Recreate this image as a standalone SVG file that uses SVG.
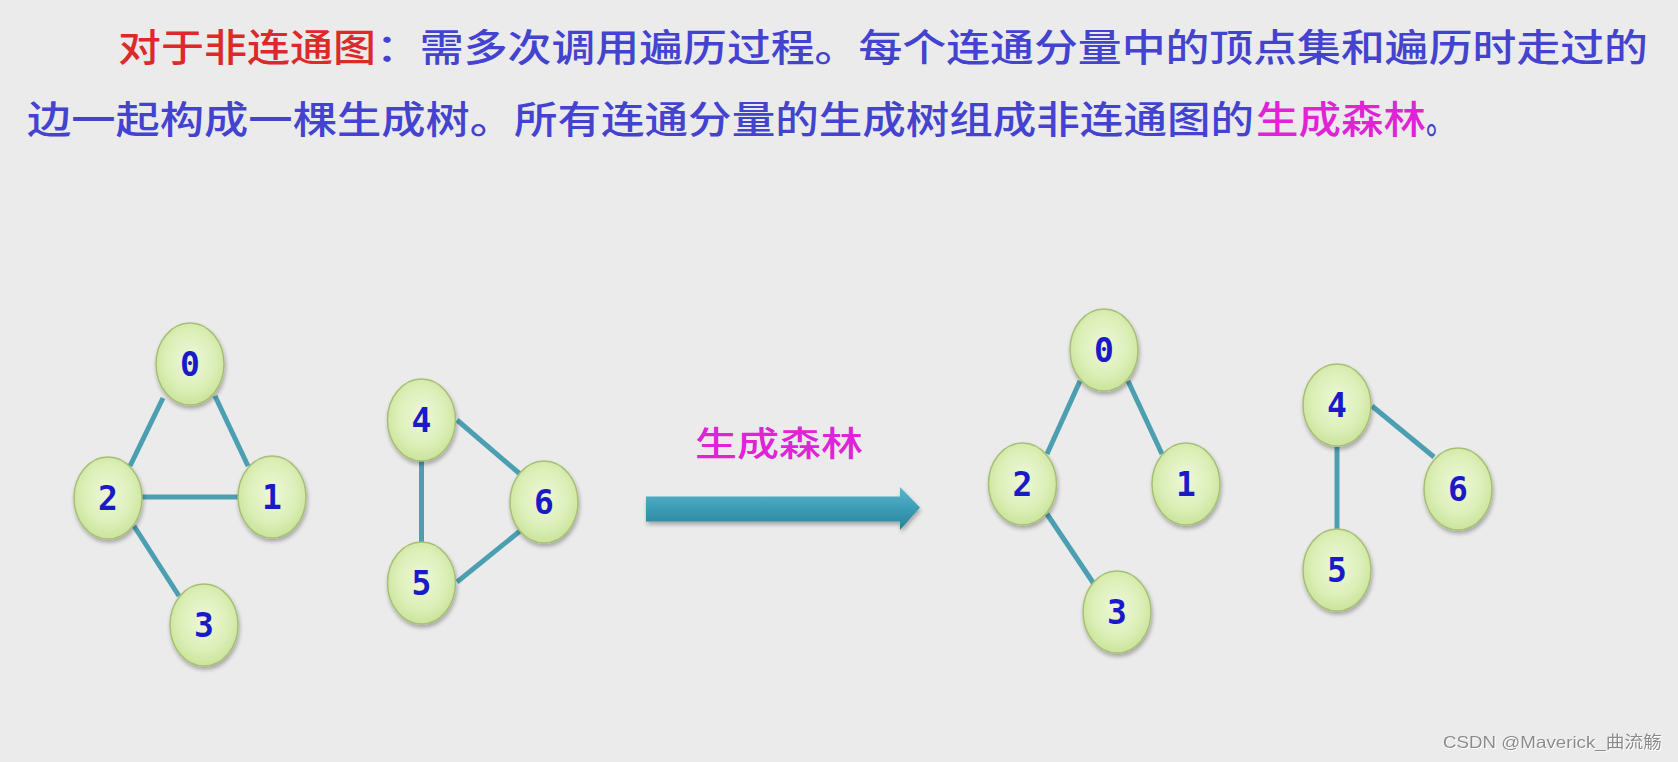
<svg xmlns="http://www.w3.org/2000/svg" width="1678" height="762" viewBox="0 0 1678 762">
<defs>
<radialGradient id="ng" cx="50%" cy="45%" r="60%">
<stop offset="0" stop-color="#eef8d8"/>
<stop offset="0.6" stop-color="#dcefb8"/>
<stop offset="1" stop-color="#c6e193"/>
</radialGradient>
<linearGradient id="ag" x1="0" y1="0" x2="0" y2="1">
<stop offset="0" stop-color="#5bb5cb"/>
<stop offset="0.5" stop-color="#3c9db6"/>
<stop offset="1" stop-color="#2a7f98"/>
</linearGradient>
<filter id="sh" x="-30%" y="-30%" width="160%" height="160%">
<feGaussianBlur in="SourceAlpha" stdDeviation="2"/>
<feOffset dx="1" dy="3"/>
<feComponentTransfer><feFuncA type="linear" slope="0.3"/></feComponentTransfer>
<feMerge><feMergeNode/><feMergeNode in="SourceGraphic"/></feMerge>
</filter>
<filter id="ws" x="-5%" y="-30%" width="110%" height="160%">
<feOffset in="SourceAlpha" dx="1" dy="1" result="o"/>
<feFlood flood-color="#ffffff"/>
<feComposite in2="o" operator="in"/>
<feMerge><feMergeNode/><feMergeNode in="SourceGraphic"/></feMerge>
</filter>
</defs>
<style>
.t{font-family:"Noto Sans CJK SC","Noto Sans CJK TC",sans-serif;font-size:38px;font-weight:500;}
.red{fill:#dc2a2a;}
.blue{fill:#4343cf;}
.mag{fill:#e023d6;}
.node ellipse{fill:url(#ng);stroke:#a7bf75;stroke-width:1.5;filter:url(#sh);}
.node text{font-family:"DejaVu Sans Mono",monospace;font-weight:bold;font-size:33px;fill:#1a1ac8;text-anchor:middle;}
.edges line{stroke:#4c9fb1;stroke-width:5;stroke-linecap:butt;}
</style>
<rect width="1678" height="762" fill="#ebebeb"/>

<g id="title">
<text class="t red" x="118" y="61" textLength="258" lengthAdjust="spacingAndGlyphs">对于非连通图</text>
<text class="t blue" x="376" y="61" textLength="1272" lengthAdjust="spacingAndGlyphs">：需多次调用遍历过程。每个连通分量中的顶点集和遍历时走过的</text>
<text class="t blue" x="27" y="133" textLength="487" lengthAdjust="spacingAndGlyphs">边一起构成一棵生成树。</text>
<text class="t blue" x="514" y="133" textLength="740" lengthAdjust="spacingAndGlyphs">所有连通分量的生成树组成非连通图的</text>
<text class="t mag" x="1256" y="133" textLength="170" lengthAdjust="spacingAndGlyphs">生成森林</text>
<text class="t blue" x="1426" y="133" textLength="28" lengthAdjust="spacingAndGlyphs">。</text>
</g>

<g id="connectors" class="edges">
<line x1="163" y1="398" x2="130" y2="466"/>
<line x1="215" y1="396" x2="248" y2="466"/>
<line x1="142" y1="497" x2="239" y2="497"/>
<line x1="134" y1="526" x2="179" y2="596"/>
<line x1="457" y1="420" x2="520" y2="474"/>
<line x1="421.5" y1="460" x2="421.5" y2="543"/>
<line x1="457" y1="582" x2="520" y2="531"/>
<line x1="1080" y1="381" x2="1047" y2="454"/>
<line x1="1128" y1="381" x2="1162" y2="454"/>
<line x1="1047" y1="514" x2="1094" y2="584"/>
<line x1="1372" y1="406" x2="1434" y2="457"/>
<line x1="1337" y1="447" x2="1337" y2="530"/>
</g>

<g id="n0" class="node"><ellipse cx="190" cy="364" rx="34" ry="41"/><text x="190" y="376">0</text></g>
<g id="n1" class="node"><ellipse cx="272" cy="497" rx="34" ry="41"/><text x="272" y="509">1</text></g>
<g id="n2" class="node"><ellipse cx="108" cy="498" rx="34" ry="41"/><text x="108" y="510">2</text></g>
<g id="n3" class="node"><ellipse cx="204" cy="625" rx="34" ry="41"/><text x="204" y="637">3</text></g>
<g id="n4" class="node"><ellipse cx="421.5" cy="420" rx="34" ry="41"/><text x="421.5" y="432">4</text></g>
<g id="n5" class="node"><ellipse cx="421.5" cy="583" rx="34" ry="41"/><text x="421.5" y="595">5</text></g>
<g id="n6" class="node"><ellipse cx="544" cy="502" rx="34" ry="41"/><text x="544" y="514">6</text></g>

<g id="arrow">
<path d="M646,496.5 L900,496.5 L900,487 L920,507.5 L900,530 L900,521.5 L646,521.5 Z" fill="url(#ag)" filter="url(#sh)"/>
<text class="t mag" x="695" y="456" textLength="168" lengthAdjust="spacingAndGlyphs" style="font-size:34px">生成森林</text>
</g>

<g id="m0" class="node"><ellipse cx="1104" cy="350" rx="34" ry="41"/><text x="1104" y="362">0</text></g>
<g id="m1" class="node"><ellipse cx="1186" cy="484" rx="34" ry="41"/><text x="1186" y="496">1</text></g>
<g id="m2" class="node"><ellipse cx="1022.5" cy="484" rx="34" ry="41"/><text x="1022.5" y="496">2</text></g>
<g id="m3" class="node"><ellipse cx="1117" cy="612" rx="34" ry="41"/><text x="1117" y="624">3</text></g>
<g id="m4" class="node"><ellipse cx="1337" cy="405" rx="34" ry="41"/><text x="1337" y="417">4</text></g>
<g id="m5" class="node"><ellipse cx="1337" cy="570" rx="34" ry="41"/><text x="1337" y="582">5</text></g>
<g id="m6" class="node"><ellipse cx="1458" cy="489" rx="34" ry="41"/><text x="1458" y="501">6</text></g>

<text x="1443" y="748" font-family="'Liberation Sans','Noto Sans CJK SC',sans-serif" font-size="16.5" fill="#8a8a8a" filter="url(#ws)" textLength="219" lengthAdjust="spacingAndGlyphs">CSDN @Maverick_曲流觞</text>
</svg>
